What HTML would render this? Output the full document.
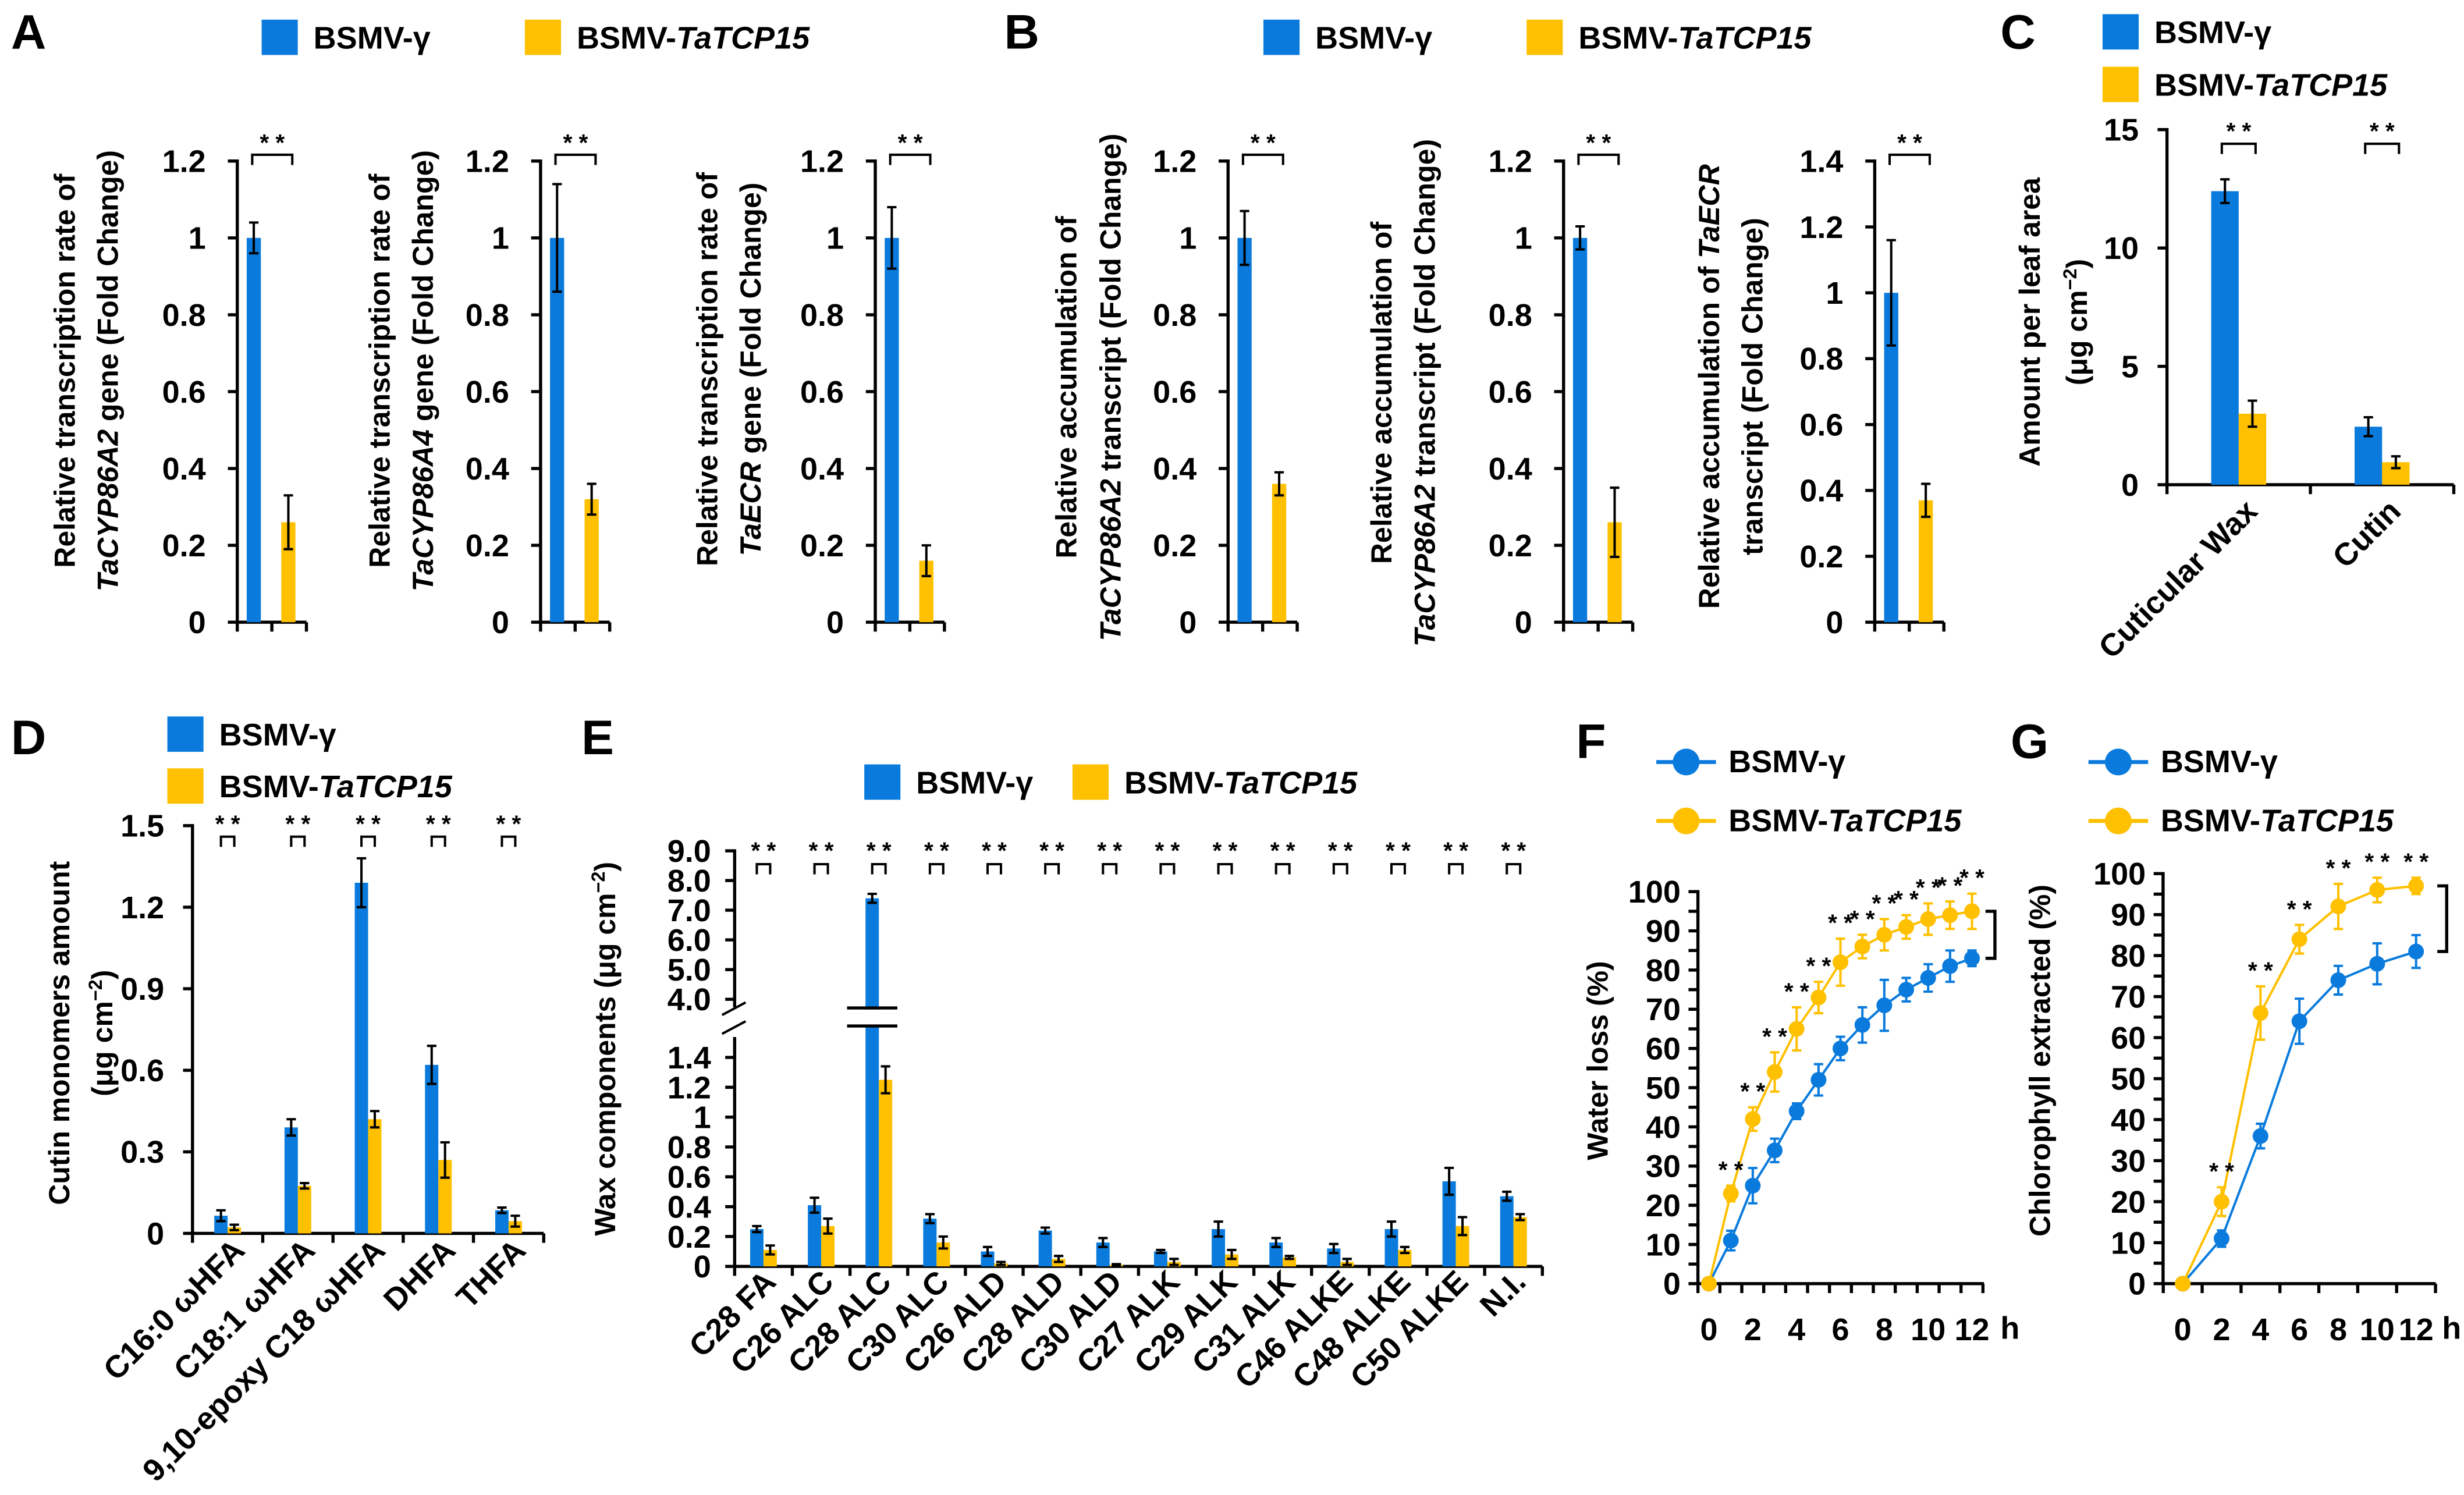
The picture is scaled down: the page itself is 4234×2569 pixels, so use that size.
<!DOCTYPE html>
<html><head><meta charset="utf-8">
<style>
html,body{margin:0;padding:0;background:#fff;}
svg{display:block;font-family:"Liberation Sans",sans-serif;}
</style></head>
<body>
<svg id="fig" xmlns="http://www.w3.org/2000/svg" width="4234" height="2569" viewBox="0 0 3136 1903" preserveAspectRatio="none"></svg>
<script>
// ---------- DATA ----------
const groupLabels=['BSMV-γ','BSMV-TaTCP15'];
const a1Mean=[1.0,0.26], a1Err=[0.04,0.07];
const a2Mean=[1.0,0.32], a2Err=[0.14,0.04];
const a3Mean=[1.0,0.16], a3Err=[0.08,0.04];
const b1Mean=[1.0,0.36], b1Err=[0.07,0.03];
const b2Mean=[1.0,0.26], b2Err=[0.03,0.09];
const b3Mean=[1.0,0.37], b3Err=[0.16,0.05];
const cCats=['Cuticular Wax','Cutin'];
const cBlue=[12.4,2.45], cBlueErr=[0.5,0.4];
const cYel=[3.0,0.95], cYelErr=[0.55,0.25];
const dCats=['C16:0 ωHFA','C18:1 ωHFA','9,10-epoxy C18 ωHFA','DHFA','THFA'];
const dBlue=[0.065,0.39,1.29,0.62,0.085], dBlueErr=[0.02,0.03,0.09,0.07,0.01];
const dYel=[0.022,0.175,0.42,0.27,0.045], dYelErr=[0.01,0.01,0.03,0.065,0.02];
const dTicks=[0,0.3,0.6,0.9,1.2,1.5];
const eCats=['C28 FA','C26 ALC','C28 ALC','C30 ALC','C26 ALD','C28 ALD','C30 ALD','C27 ALK','C29 ALK','C31 ALK','C46 ALKE','C48 ALKE','C50 ALKE','N.I.'];
const eBlue=[0.25,0.41,7.4,0.32,0.10,0.24,0.16,0.10,0.25,0.16,0.12,0.25,0.57,0.47];
const eBlueErr=[0.02,0.05,0.15,0.03,0.03,0.02,0.03,0.01,0.05,0.03,0.03,0.05,0.09,0.03];
const eYel=[0.11,0.27,1.25,0.16,0.02,0.05,0.01,0.03,0.08,0.06,0.03,0.11,0.27,0.33];
const eYelErr=[0.03,0.05,0.09,0.04,0.01,0.02,0.005,0.02,0.03,0.01,0.02,0.02,0.06,0.02];
const eLowTicks=['0','0.2','0.4','0.6','0.8','1','1.2','1.4'];
const eHighTicks=['4.0','5.0','6.0','7.0','8.0','9.0'];
const fHours=[0,1,2,3,4,5,6,7,8,9,10,11,12];
const fBlue=[0,11,25,34,44,52,60,66,71,75,78,81,83];
const fBlueErr=[0,2.5,4.5,3,2,4,3,4.5,6.5,3,3.5,4,2];
const fYel=[0,23,42,54,65,73,82,86,89,91,93,94,95];
const fYelErr=[0,2,3,5,5.5,4,6,3,4,3,4,3.5,4.5];
const gHours=[0,2,4,6,8,10,12];
const gBlue=[0,11,36,64,74,78,81];
const gBlueErr=[0,2,3,5.5,3.5,5,4];
const gYel=[0,20,66,84,92,96,97];
const gYelErr=[0,3.5,6.5,3.5,5.5,3,2];
const pctTicks=[0,10,20,30,40,50,60,70,80,90,100];

// ---------- HELPERS ----------
const NS='http://www.w3.org/2000/svg';
const svg=document.getElementById('fig');
const BLUE='#0a7bdc', YEL='#ffc000';
function mk(tag,attrs,parent){const e=document.createElementNS(NS,tag);for(const k in attrs)e.setAttribute(k,attrs[k]);(parent||svg).appendChild(e);return e;}
function ln(x1,y1,x2,y2,w,p,c){return mk('line',{x1:x1,y1:y1,x2:x2,y2:y2,stroke:c||'#000','stroke-width':w||4},p);}
function tx(x,y,html,size,anchor,p,weight){const t=mk('text',{x:x,y:y,'font-size':size,'text-anchor':anchor||'start','font-weight':weight||'bold'},p);t.innerHTML=html;return t;}
function vtitle(lines,xs,cy,p){lines.forEach((s,i)=>{const t=tx(xs[i]+13,cy,s,37,'middle',p);t.setAttribute('transform','rotate(-90 '+(xs[i]+13)+' '+cy+')');});}
function fmt(v){return v===0?'0':String(+v.toFixed(1));}
function errbar(x,yTop,yBot,p,c,cap){const g=mk('g',{},p);ln(x,yTop,x,yBot,3,g,c);ln(x-(cap||6),yTop,x+(cap||6),yTop,3,g,c);ln(x-(cap||6),yBot,x+(cap||6),yBot,3,g,c);}
function bracket(x1,x2,y,p,starY){const g=mk('g',{},p);mk('path',{d:'M'+x1+' '+(y+13)+'V'+y+'H'+x2+'V'+(y+13),fill:'none',stroke:'#000','stroke-width':3},g);tx((x1+x2)/2,starY,'* *',30,'middle',g);}
function panelLetter(x,y,s){const t=tx(x,y,s,62,'start');}
function legendSq(x,y,color,label,name){const g=mk('g',{});mk('rect',{x:x,y:y,width:46,height:45,fill:color},g);tx(x+66,y+37,label,40,'start',g);}
function legendLine(x,y,color,label,name){const g=mk('g',{});ln(x,y,x+76,y,5,g,color);mk('circle',{cx:x+38,cy:y,r:17,fill:color},g);tx(x+92,y+13,label,40,'start',g);}
const LBL_B='BSMV-γ', LBL_Y='BSMV-<tspan font-style="italic">TaTCP15</tspan>';

// ---------- SMALL TWO-BAR PANELS (A,B) ----------
function twoBar(p){
  const g=mk('g',{});
  const y0=792,yT=205;const ys=v=>y0-v/p.max*(y0-yT);
  ln(p.ax,yT-2,p.ax,y0+2,4,g);
  for(let v=0;v<=p.max+1e-9;v+=0.2){const y=ys(v);ln(p.ax-12,y,p.ax,y,4,g);const t=tx(p.ax-40,y+14,fmt(v),40,'end',g);}
  ln(p.ax,y0,p.ax+88,y0,4,g);
  [0,44,88].forEach(d=>ln(p.ax+d,y0,p.ax+d,y0+12,4,g));
  const cols=[BLUE,YEL];
  p.mean.forEach((m,i)=>{const cx=p.ax+21+44*i;const r=mk('rect',{x:cx-9,y:ys(m),width:18,height:y0-ys(m),fill:cols[i]},g);
    
    
    errbar(cx,ys(m+p.err[i]),ys(m-p.err[i]),g,'#000',6);});
  bracket(p.ax+19,p.ax+70,197,g,192);
  vtitle(p.title,p.tx,p.cy,g);
}
panelLetter(14,62,'A');
legendSq(333,25,BLUE,LBL_B,'legend-bsmv-a');legendSq(668,25,YEL,LBL_Y,'legend-tatcp15-a');
twoBar({name:'chart-a1',ax:302,max:1.2,mean:a1Mean,err:a1Err,tx:[82,137],cy:472,title:['Relative transcription rate of','<tspan font-style="italic">TaCYP86A2</tspan> gene (Fold Change)']});
twoBar({name:'chart-a2',ax:688,max:1.2,mean:a2Mean,err:a2Err,tx:[483,538],cy:472,title:['Relative transcription rate of','<tspan font-style="italic">TaCYP86A4</tspan> gene (Fold Change)']});
twoBar({name:'chart-a3',ax:1114,max:1.2,mean:a3Mean,err:a3Err,tx:[900,955],cy:470,title:['Relative transcription rate of','<tspan font-style="italic">TaECR</tspan> gene (Fold Change)']});
panelLetter(1278,62,'B');
legendSq(1608,25,BLUE,LBL_B,'legend-bsmv-b');legendSq(1943,25,YEL,LBL_Y,'legend-tatcp15-b');
twoBar({name:'chart-b1',ax:1563,max:1.2,mean:b1Mean,err:b1Err,tx:[1357,1413],cy:493,title:['Relative accumulation of','<tspan font-style="italic">TaCYP86A2</tspan> transcript (Fold Change)']});
twoBar({name:'chart-b2',ax:1990,max:1.2,mean:b2Mean,err:b2Err,tx:[1758,1813],cy:500,title:['Relative accumulation of','<tspan font-style="italic">TaCYP86A2</tspan> transcript (Fold Change)']});
twoBar({name:'chart-b3',ax:2386,max:1.4,mean:b3Mean,err:b3Err,tx:[2175,2230],cy:492,title:['Relative accumulation of  <tspan font-style="italic">TaECR</tspan>','transcript (Fold Change)']});

// ---------- GROUPED BAR (C, D) ----------
function grouped(p){
  const g=mk('g',{});
  const ys=v=>p.y0-v/p.max*(p.y0-p.yT);
  ln(p.ax,p.yT-2,p.ax,p.y0+2,4,g);
  p.ticks.forEach(v=>{const y=ys(v);ln(p.ax-12,y,p.ax,y,4,g);const t=tx(p.ax-36,y+14,p.tickFmt(v),40,'end',g);});
  const n=p.cats.length;const gw=(p.xEnd-p.ax)/n;
  ln(p.ax,p.y0,p.xEnd,p.y0,4,g);
  for(let i=0;i<=n;i++)ln(p.ax+gw*i,p.y0,p.ax+gw*i,p.y0+12,4,g);
  p.cats.forEach((c,i)=>{const cx=p.ax+gw*(i+0.5);
    [[p.blue,p.blueErr,BLUE,-1],[p.yel,p.yelErr,YEL,1]].forEach(s=>{const bx=cx+s[3]*p.bw/2;const r=mk('rect',{x:bx-p.bw/2,y:ys(s[0][i]),width:p.bw,height:p.y0-ys(s[0][i]),fill:s[2]},g);
      
      
      errbar(bx,ys(s[0][i]+s[1][i]),ys(s[0][i]-s[1][i]),g,'#000',6);});
    bracket(cx-p.bw/2-(p.bk||0),cx+p.bw/2+(p.bk||0),p.brY,g,p.brY-6);
    const lx=cx+p.lblDx,ly=p.y0+p.lblDy;const t=tx(lx,ly,c,40,'end',g);t.setAttribute('transform','rotate(-45 '+lx+' '+ly+')');});
  vtitle(p.title,p.tx,p.cy,g);
}
panelLetter(2546,62,'C');
legendSq(2676,18,BLUE,LBL_B,'legend-bsmv-c');legendSq(2676,85,YEL,LBL_Y,'legend-tatcp15-c');
grouped({name:'chart-c',ax:2758,xEnd:3123,y0:617,yT:165,max:15,ticks:[0,5,10,15],tickFmt:v=>String(v),cats:cCats,blue:cBlue,blueErr:cBlueErr,yel:cYel,yelErr:cYelErr,bw:35,bk:4,brY:183,lblDx:26,lblDy:36,tx:[2583,2643],cy:410,title:['Amount per leaf area','(μg cm<tspan baseline-shift="super" font-size="24">−2</tspan>)']});
panelLetter(14,960,'D');
legendSq(213,912,BLUE,LBL_B,'legend-bsmv-d');legendSq(213,978,YEL,LBL_Y,'legend-tatcp15-d');
grouped({name:'chart-d',ax:245,xEnd:692,y0:1570,yT:1051,max:1.5,ticks:dTicks,tickFmt:v=>v===0?'0':v.toFixed(1),cats:dCats,blue:dBlue,blueErr:dBlueErr,yel:dYel,yelErr:dYelErr,bw:17,bk:0,brY:1065,lblDx:24,lblDy:24,tx:[75,130],cy:1315,title:['Cutin monomers amount','(μg cm<tspan baseline-shift="super" font-size="24">−2</tspan>)']});

// ---------- E: broken axis ----------
(function(){
  const g=mk('g',{});
  const ax=935,xEnd=1963,y0=1612;
  const yL=v=>y0-v/0.2*38, yU=v=>1272-(v-4)*37.8;
  const ys=v=>v<=1.45?yL(v):yU(v);
  panelLetter(740,960,'E');
  legendSq(1100,973,BLUE,LBL_B,'legend-bsmv-e');legendSq(1365,973,YEL,LBL_Y,'legend-tatcp15-e');
  ln(ax,1320,ax,y0+2,4,g);ln(ax,1081,ax,1282,4,g);
  ln(ax-16,1292,ax+14,1276,3,g);ln(ax-16,1316,ax+14,1300,3,g);
  eLowTicks.forEach(s=>{const y=yL(+s);ln(ax-12,y,ax,y,4,g);const t=tx(ax-30,y+14,s,40,'end',g);});
  eHighTicks.forEach(s=>{const y=yU(+s);ln(ax-12,y,ax,y,4,g);const t=tx(ax-30,y+14,s,40,'end',g);});
  const n=eCats.length,gw=(xEnd-ax)/n,bw=17;
  ln(ax,y0,xEnd,y0,4,g);
  for(let i=0;i<=n;i++)ln(ax+gw*i,y0,ax+gw*i,y0+12,4,g);
  eCats.forEach((c,i)=>{const cx=ax+gw*(i+0.5);
    [[eBlue,eBlueErr,BLUE,-1],[eYel,eYelErr,YEL,1]].forEach(s=>{const v=s[0][i];const bx=cx+s[3]*bw/2;const r=mk('rect',{x:bx-bw/2,y:ys(v),width:bw,height:y0-ys(v),fill:s[2]},g);
      
      
      if(v>1.45){mk('rect',{x:bx-32,y:1285,width:64,height:20,fill:'#fff'},g);ln(bx-32,1283,bx+32,1283,4,g);ln(bx-32,1306,bx+32,1306,4,g);}
      errbar(bx,ys(v+s[1][i]),ys(v-s[1][i]),g,'#000',6);});
    bracket(cx-bw/2,cx+bw/2,1100,g,1093);
    const lx=cx+18,ly=y0+22;const t=tx(lx,ly,c,40,'end',g);t.setAttribute('transform','rotate(-45 '+lx+' '+ly+')');});
  vtitle(['Wax components (μg cm<tspan baseline-shift="super" font-size="24">−2</tspan>)'],[770],1335,g);
})();

// ---------- LINE PANELS (F, G) ----------
function linePanel(p){
  const g=mk('g',{});
  const ys=v=>p.y0-v/100*(p.y0-p.yT);const xs=h=>p.x0+h*p.ph;
  ln(p.ax,p.yT-2,p.ax,p.y0+2,4,g);
  for(let v=0;v<=100;v+=5){const y=ys(v);ln(p.ax-12,y,p.ax,y,4,g);}
  pctTicks.forEach(v=>{const t=tx(p.ax-22,ys(v)+14,String(v),40,'end',g);});
  ln(p.ax,p.y0,p.xEnd,p.y0,4,g);
  p.xTicks.forEach(h=>ln(xs(h),p.y0,xs(h),p.y0+12,4,g));
  [0,2,4,6,8,10,12].forEach(h=>{const t=tx(xs(h),p.y0+72,String(h),40,'middle',g);});
  tx(p.hX,p.y0+70,'h',40,'start',g);
  [[p.blue,p.blueErr,BLUE,'series-bsmv'],[p.yel,p.yelErr,YEL,'series-tatcp15']].forEach(s=>{
    const sg=mk('g',{},g);
    const pl=mk('polyline',{points:p.hours.map((h,i)=>xs(h)+','+ys(s[0][i])).join(' '),fill:'none',stroke:s[2],'stroke-width':3},sg);
    
    
    p.hours.forEach((h,i)=>{if(s[1][i]>0)errbar(xs(h),ys(s[0][i]+s[1][i]),ys(s[0][i]-s[1][i]),sg,s[2],6);
      const c=mk('circle',{cx:xs(h),cy:ys(s[0][i]),r:10,fill:s[2]},sg);
      
      });
  });
  p.hours.forEach((h,i)=>{if(h>0){const t=tx(xs(h),ys(p.yel[i]+p.yelErr[i])-10,'* *',30,'middle',g);}});
  const n=p.hours.length-1;const yA=ys(p.yel[n]),yB=ys(p.blue[n]);
  mk('path',{d:'M'+(p.xEnd+2)+' '+yA+'H'+(p.xEnd+14)+'V'+yB+'H'+(p.xEnd+2),fill:'none',stroke:'#000','stroke-width':4},g);
  vtitle([p.title],[p.tx],1350,g);
}
panelLetter(2006,965,'F');
legendLine(2108,970,BLUE,LBL_B,'legend-bsmv-f');legendLine(2108,1045,YEL,LBL_Y,'legend-tatcp15-f');
linePanel({name:'chart-f',ax:2161,xEnd:2525,y0:1634,yT:1135,x0:2175,ph:27.9,hours:fHours,blue:fBlue,blueErr:fBlueErr,yel:fYel,yelErr:fYelErr,xTicks:[-0.5,0.5,1.5,2.5,3.5,4.5,5.5,6.5,7.5,8.5,9.5,10.5,11.5,12.5],hX:2546,title:'Water loss (%)',tx:2033});
panelLetter(2559,965,'G');
legendLine(2658,970,BLUE,LBL_B,'legend-bsmv-g');legendLine(2658,1045,YEL,LBL_Y,'legend-tatcp15-g');
linePanel({name:'chart-g',ax:2753,xEnd:3100,y0:1634,yT:1112,x0:2778,ph:24.75,hours:gHours,blue:gBlue,blueErr:gBlueErr,yel:gYel,yelErr:gYelErr,xTicks:[-1,1,3,5,7,9,11,13],hX:3108,title:'Chlorophyll extracted (%)',tx:2596});
</script>
</body></html>
